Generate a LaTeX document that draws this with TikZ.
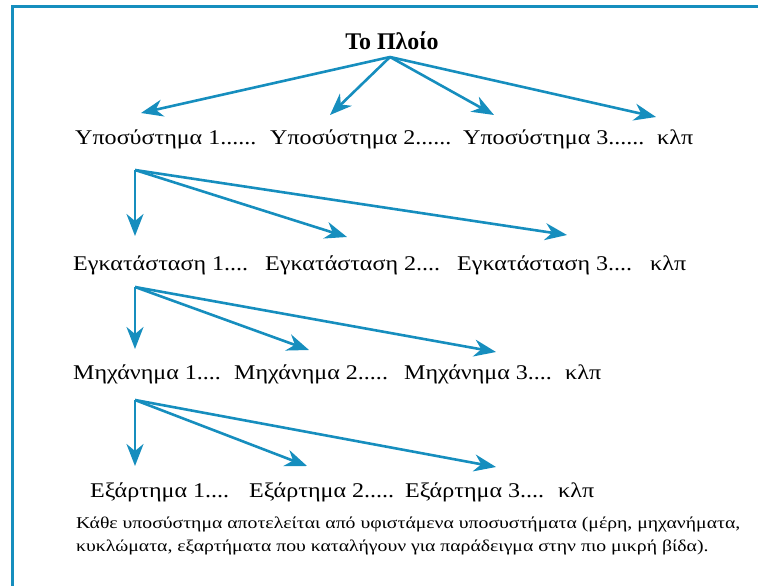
\documentclass[tikz,border=0pt]{standalone}
\usepackage{fontspec}
\setmainfont{Liberation Serif}
\newfontfamily\wideserif[FakeStretch=1.15]{Liberation Serif}
\newfontfamily\notefont[FakeStretch=1.2]{Liberation Serif}
\usetikzlibrary{arrows.meta}
\definecolor{linkblue}{RGB}{22,142,190}
\tikzset{
  link/.style={draw=linkblue, line width=2.6bp, -{Stealth[length=22bp,width=17bp,inset=7bp]}},
  item/.style={anchor=base west, inner sep=0pt, font=\wideserif\fontsize{21}{24}\selectfont}
}
\begin{document}
\begin{tikzpicture}[x=1bp,y=-1bp]
\useasboundingbox (0,0) rectangle (758,586);
% frame along the top and left edges
\draw[linkblue, line width=3bp] (12,587) -- (12,7) -- (759,7);

% title
\node[inner sep=0pt, anchor=base, font=\fontsize{24}{27}\selectfont\bfseries] (ship) at (392,50) {Το Πλοίο};

% level 1: subsystems
\node[item] (s1) at (75,145)  {Υποσύστημα 1......};
\node[item] (s2) at (270,145) {Υποσύστημα 2......};
\node[item] (s3) at (463,145) {Υποσύστημα 3......};
\node[item] (s4) at (657,145) {κλπ};

% level 2: installations
\node[item] (i1) at (73,270)  {Εγκατάσταση 1....};
\node[item] (i2) at (265,270) {Εγκατάσταση 2....};
\node[item] (i3) at (457,270) {Εγκατάσταση 3....};
\node[item] (i4) at (650,270) {κλπ};

% level 3: machines
\node[item] (m1) at (73,379)  {Μηχάνημα 1....};
\node[item] (m2) at (234,379) {Μηχάνημα 2.....};
\node[item] (m3) at (404,379) {Μηχάνημα 3....};
\node[item] (m4) at (565,379) {κλπ};

% level 4: parts
\node[item] (p1) at (90,497)  {Εξάρτημα 1....};
\node[item] (p2) at (249,497) {Εξάρτημα 2.....};
\node[item] (p3) at (405,497) {Εξάρτημα 3....};
\node[item] (p4) at (558,497) {κλπ};

% caption
\node[anchor=base west, inner sep=0pt, align=left, font=\notefont\fontsize{16.5}{23}\selectfont] (note) at (76,551)
  {Κάθε υποσύστημα αποτελείται από υφιστάμενα υποσυστήματα (μέρη, μηχανήματα,\\
   κυκλώματα, εξαρτήματα που καταλήγουν για παράδειγμα στην πιο μικρή βίδα).};

% branching points and arrow targets
\coordinate (h0) at (390,57);
\coordinate (t01) at (141,113);
\coordinate (t02) at (330,115);
\coordinate (t03) at (494,115);
\coordinate (t04) at (656,117);

\coordinate (h1) at (135,170);
\coordinate (t11) at (135,236);
\coordinate (t12) at (347,237);
\coordinate (t13) at (567,235);

\coordinate (h2) at (135,287);
\coordinate (t21) at (135,349);
\coordinate (t22) at (309,350);
\coordinate (t23) at (496,352);

\coordinate (h3) at (135,400);
\coordinate (t31) at (135,466);
\coordinate (t32) at (307,466);
\coordinate (t33) at (496,467);

\foreach \t in {t01,t02,t03,t04} \draw[link] (h0) -- (\t);
\foreach \t in {t11,t12,t13} \draw[link] (h1) -- (\t);
\foreach \t in {t21,t22,t23} \draw[link] (h2) -- (\t);
\foreach \t in {t31,t32,t33} \draw[link] (h3) -- (\t);
\end{tikzpicture}
\end{document}
